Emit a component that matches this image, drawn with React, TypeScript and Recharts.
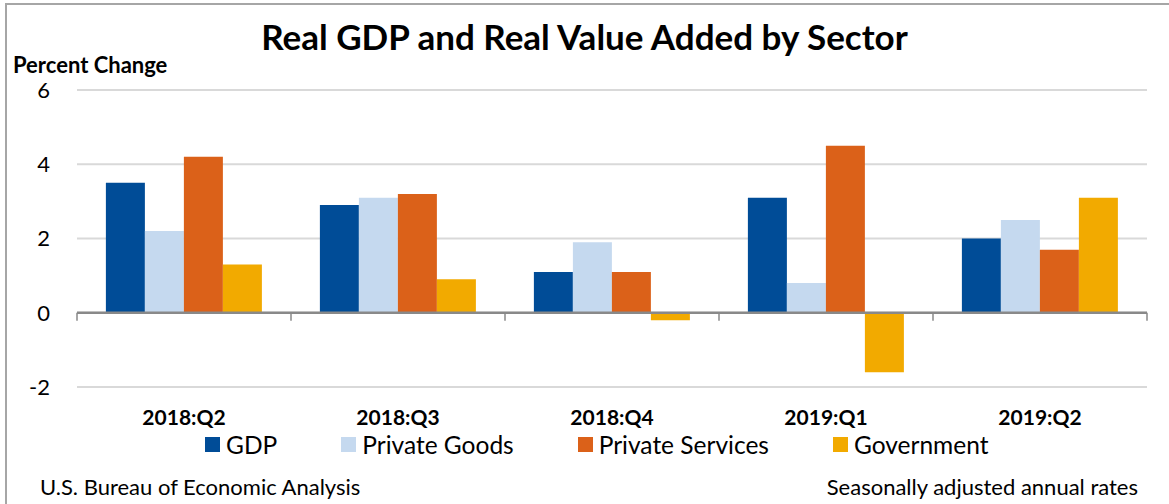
import React from 'react';
import { BarChart, Bar, XAxis, YAxis, CartesianGrid, ReferenceLine } from 'recharts';

const categories = ['2018:Q2', '2018:Q3', '2018:Q4', '2019:Q1', '2019:Q2'];
const gdp = [3.5, 2.9, 1.1, 3.1, 2.0];
const privateGoods = [2.2, 3.1, 1.9, 0.8, 2.5];
const privateServices = [4.2, 3.2, 1.1, 4.5, 1.7];
const government = [1.3, 0.9, -0.2, -1.6, 3.1];
const yTicks = [-2, 0, 2, 4, 6];

const series = [
  { key: 'gdp', name: 'GDP', color: '#004C97', values: gdp },
  { key: 'pg', name: 'Private Goods', color: '#C5D9EF', values: privateGoods },
  { key: 'ps', name: 'Private Services', color: '#DB6119', values: privateServices },
  { key: 'gov', name: 'Government', color: '#F2AA00', values: government },
];

const data = categories.map((c, i) => {
  const row: any = { category: c };
  series.forEach((s) => (row[s.key] = s.values[i]));
  return row;
});

const FONT = 'Lato, "Open Sans", sans-serif';

const ZeroLine = (props: any) => {
  const { x1, x2, y1 } = props;
  const n = categories.length;
  const step = (x2 - x1) / n;
  const ticks = [];
  for (let i = 0; i <= n; i++) {
    const x = x1 + step * i;
    ticks.push(<line key={i} x1={x} x2={x} y1={y1} y2={y1 + 8} stroke="#898989" strokeWidth={1.5} />);
  }
  return (
    <g>
      <line x1={x1} x2={x2} y1={y1} y2={y1} stroke="#898989" strokeWidth={2.5} />
      {ticks}
    </g>
  );
};

export default function App() {
  return (
    <div style={{ position: 'absolute', left: 0, top: 0, width: 1169, height: 504, background: '#fff', fontFamily: FONT, overflow: 'hidden' }}>
      <div style={{ position: 'absolute', left: 5, top: 3, width: 1200, height: 600, borderLeft: '2px solid #A6A6A6', borderTop: '2px solid #A6A6A6' }} />
      <div style={{ position: 'absolute', left: 0, width: 1169, top: 15, textAlign: 'center', fontWeight: 700, fontSize: 35, color: '#000', whiteSpace: 'nowrap' }}>
        Real GDP and Real Value Added by Sector
      </div>
      <div style={{ position: 'absolute', left: 13, top: 54, fontWeight: 700, fontSize: 22, lineHeight: '22px', color: '#000', whiteSpace: 'nowrap' }}>Percent Change</div>
      <div style={{ position: 'absolute', left: 0, top: 0 }}>
        <BarChart
          width={1169}
          height={504}
          data={data}
          margin={{ top: 90, right: 22, left: 17, bottom: 87 }}
          barCategoryGap="13.5%"
          barGap={0}
        >
          <CartesianGrid vertical={false} stroke="#D9D9D9" strokeWidth={2} />
          <XAxis
            dataKey="category"
            axisLine={false}
            tickLine={false}
            height={30}
            tickMargin={17}
            tick={{ fontFamily: FONT, fontSize: 21, fontWeight: 700, fill: '#000' }}
          />
          <YAxis
            domain={[-2, 6]}
            ticks={yTicks}
            width={60}
            axisLine={false}
            tickLine={false}
            tickSize={0}
            tickMargin={27}
            interval={0}
            tick={{ fontFamily: FONT, fontSize: 22, fill: '#000' }}
          />
          {series.map((s) => (
            <Bar key={s.key} dataKey={s.key} name={s.name} fill={s.color} isAnimationActive={false} />
          ))}
          <ReferenceLine y={0} shape={<ZeroLine />} />
        </BarChart>
      </div>
      <div style={{ position: 'absolute', left: 205, top: 430, display: 'flex', alignItems: 'center', fontSize: 24.5, color: '#000', whiteSpace: 'nowrap' }}>
        {series.map((s) => (
          <div key={s.key} style={{ display: 'flex', alignItems: 'center', marginRight: 64 }}>
            <span style={{ display: 'inline-block', width: 15, height: 15, background: s.color, marginRight: 6 }} />
            <span>{s.name}</span>
          </div>
        ))}
      </div>
      <div style={{ position: 'absolute', left: 40, top: 473, fontSize: 22, color: '#000', whiteSpace: 'nowrap' }}>U.S. Bureau of Economic Analysis</div>
      <div style={{ position: 'absolute', right: 31, top: 473, fontSize: 22, color: '#000', whiteSpace: 'nowrap' }}>Seasonally adjusted annual rates</div>
    </div>
  );
}
